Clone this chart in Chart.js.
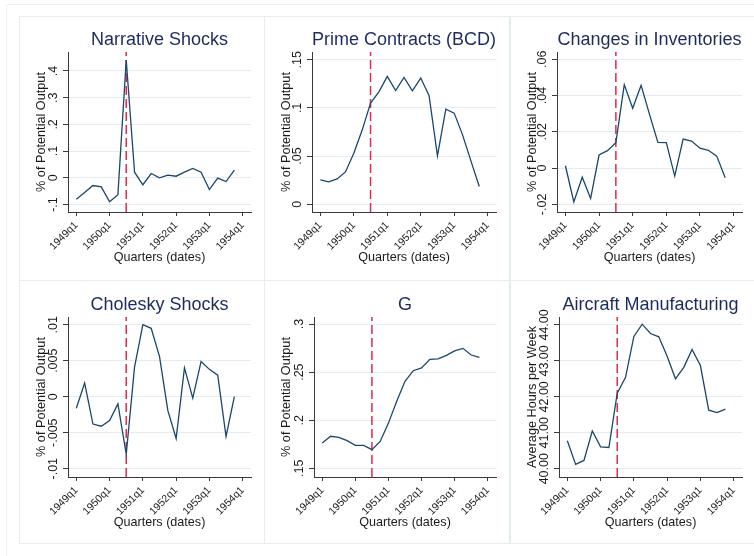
<!DOCTYPE html>
<html lang="en">
<head>
<meta charset="UTF-8">
<title>Defense shocks around the Korean War</title>
<script src="https://cdn.jsdelivr.net/npm/chart.js"></script>
<style>
  body {
    margin: 0;
    width: 754px;
    height: 556px;
    overflow: hidden;
    position: relative;
    background: #fff;
  }
  .outer {
    position: absolute;
    left: 6px;
    top: 4px;
    width: 800px;
    height: 600px;
    border: 1px solid #eef2f4;
  }
  .frame {
    position: absolute;
    box-sizing: border-box;
    border: 1px solid #e6edf0;
  }
  canvas {
    position: absolute;
  }
</style>
</head>
<body>
<div class="outer"></div>
<script>
// quarters on the x axis
const quarters = ['1949q1', '1949q2', '1949q3', '1949q4', '1950q1', '1950q2', '1950q3', '1950q4',
  '1951q1', '1951q2', '1951q3', '1951q4', '1952q1', '1952q2', '1952q3', '1952q4',
  '1953q1', '1953q2', '1953q3', '1953q4'];
const xTickValues = [0, 4, 8, 12, 16, 20];
const xTickLabels = ['1949q1', '1950q1', '1951q1', '1952q1', '1953q1', '1954q1'];
const eventQuarter = '1950q3';

// series
const narrativeShocks = [-0.080, -0.055, -0.029, -0.034, -0.090, -0.063, 0.441, 0.021, -0.026, 0.016,
  0.000, 0.010, 0.006, 0.021, 0.035, 0.021, -0.044, -0.001, -0.014, 0.029];
const primeContracts = [0.0253, 0.0232, 0.0263, 0.0336, 0.053, 0.077, 0.105, 0.1167, 0.1327, 0.118,
  0.1316, 0.1178, 0.131, 0.1126, 0.0502, 0.0987, 0.0946, 0.072, 0.045, 0.0184];
const inventories = [0.0013, -0.0186, -0.005, -0.0167, 0.0072, 0.0096, 0.014, 0.046, 0.033, 0.0456,
  0.0296, 0.0142, 0.014, -0.0044, 0.016, 0.0149, 0.011, 0.0098, 0.0066, -0.0053];
const choleskyShocks = [-0.0016, 0.0019, -0.0038, -0.0041, -0.0033, -0.001, -0.008, 0.0041, 0.0100, 0.0095,
  0.0056, -0.0019, -0.0058, 0.0040, -0.0002, 0.0049, 0.0038, 0.0030, -0.0055, 0.0000];
const govSpending = [0.1763, 0.1833, 0.1822, 0.1788, 0.1739, 0.1739, 0.1694, 0.178, 0.197, 0.2197,
  0.2404, 0.2515, 0.2543, 0.2633, 0.2637, 0.2675, 0.272, 0.2747, 0.2678, 0.2654];
const aircraftHours = [40.78, 40.12, 40.23, 41.05, 40.61, 40.59, 42.10, 42.54, 43.68, 44.02,
  43.76, 43.67, 43.13, 42.50, 42.82, 43.32, 42.87, 41.63, 41.56, 41.66];

// y ticks
const narrativeTicks = [-0.1, 0, 0.1, 0.2, 0.3, 0.4];
const narrativeTickLabels = ['-.1', '0', '.1', '.2', '.3', '.4'];
const primeTicks = [0, 0.05, 0.1, 0.15];
const primeTickLabels = ['0', '.05', '.1', '.15'];
const inventoryTicks = [-0.02, 0, 0.02, 0.04, 0.06];
const inventoryTickLabels = ['-.02', '0', '.02', '.04', '.06'];
const choleskyTicks = [-0.01, -0.005, 0, 0.005, 0.01];
const choleskyTickLabels = ['-.01', '-.005', '0', '.005', '.01'];
const govTicks = [0.15, 0.2, 0.25, 0.3];
const govTickLabels = ['.15', '.2', '.25', '.3'];
const aircraftTicks = [40, 41, 42, 43, 44];
const aircraftTickLabels = ['40.00', '41.00', '42.00', '43.00', '44.00'];

const FONT = '"Liberation Sans", Arial, Helvetica, sans-serif';
const lineColor = '#1a476f';
const titleColor = '#1c2b5e';
const textColor = '#1a1a1a';
const axisColor = '#3a3a3a';
const gridColor = '#e3ecef';
const eventColor = '#e02a4f';

Chart.defaults.font.family = FONT;

const panels = [
  { title: 'Narrative Shocks', yTitle: '% of Potential Output', values: narrativeShocks,
    ticks: narrativeTicks, labels: narrativeTickLabels, min: -0.128, max: 0.471, col: 0, row: 0, axisW: 49 },
  { title: 'Prime Contracts (BCD)', yTitle: '% of Potential Output', values: primeContracts,
    ticks: primeTicks, labels: primeTickLabels, min: -0.008, max: 0.158, col: 1, row: 0, axisW: 48 },
  { title: 'Changes in Inventories', yTitle: '% of Potential Output', values: inventories,
    ticks: inventoryTicks, labels: inventoryTickLabels, min: -0.0242, max: 0.064, col: 2, row: 0, axisW: 47 },
  { title: 'Cholesky Shocks', yTitle: '% of Potential Output', values: choleskyShocks,
    ticks: choleskyTicks, labels: choleskyTickLabels, min: -0.01115, max: 0.01107, col: 0, row: 1, axisW: 49 },
  { title: 'G', yTitle: '% of Potential Output', values: govSpending,
    ticks: govTicks, labels: govTickLabels, min: 0.141, max: 0.3073, col: 1, row: 1, axisW: 50 },
  { title: 'Aircraft Manufacturing', yTitle: 'Average Hours per Week', values: aircraftHours,
    ticks: aircraftTicks, labels: aircraftTickLabels, min: 39.77, max: 44.22, col: 2, row: 1, axisW: 49 }
];

const colLeft = [19, 264, 510];
const rowTop = [16, 280];

// dashed vertical line at the start of the war
const eventLinePlugin = {
  id: 'eventLine',
  beforeDatasetsDraw(chart, args, opts) {
    const x = chart.scales.x.getPixelForValue(opts.x);
    const area = chart.chartArea;
    const c = chart.ctx;
    c.save();
    c.strokeStyle = eventColor;
    c.lineWidth = 1.5;
    c.setLineDash([9, 4]);
    c.beginPath();
    c.moveTo(x, area.bottom);
    c.lineTo(x, area.top);
    c.stroke();
    c.restore();
  }
};

// vertical y tick labels, centred on the tick (stata style)
const yLabelPlugin = {
  id: 'yLabels',
  afterDraw(chart, args, opts) {
    const s = chart.scales.y;
    const c = chart.ctx;
    c.save();
    c.font = '12.5px ' + FONT;
    c.fillStyle = textColor;
    c.textAlign = 'center';
    c.textBaseline = 'middle';
    opts.values.forEach((v, i) => {
      c.save();
      c.translate(s.right - 14, s.getPixelForValue(v));
      c.rotate(-Math.PI / 2);
      c.fillText(opts.labels[i], 0, 0);
      c.restore();
    });
    c.restore();
  }
};

const eventIdx = quarters.indexOf(eventQuarter);

panels.forEach(p => {
  const frame = document.createElement('div');
  frame.className = 'frame';
  frame.style.left = colLeft[p.col] + 'px';
  frame.style.top = rowTop[p.row] + 'px';
  frame.style.width = '246px';
  frame.style.height = (p.row === 0 ? 265 : 264) + 'px';
  document.body.appendChild(frame);

  const cv = document.createElement('canvas');
  cv.width = 245;
  cv.height = 264;
  cv.style.left = colLeft[p.col] + 'px';
  cv.style.top = (rowTop[p.row] + p.row) + 'px';
  document.body.appendChild(cv);

  new Chart(cv, {
    type: 'line',
    data: {
      datasets: [{
        data: p.values.map((v, i) => ({ x: i, y: v })),
        borderColor: lineColor,
        borderWidth: 1.3,
        pointRadius: 0,
        tension: 0,
        fill: false
      }]
    },
    options: {
      responsive: false,
      animation: false,
      devicePixelRatio: 1,
      layout: { padding: { left: 0, right: 13, top: 0, bottom: 0 } },
      plugins: {
        legend: { display: false },
        tooltip: { enabled: false },
        title: {
          display: true,
          text: p.title,
          fullSize: false,
          color: titleColor,
          font: { size: 18, weight: 'normal' },
          padding: { top: 13, bottom: 1.4 }
        },
        eventLine: { x: eventIdx },
        yLabels: { values: p.ticks, labels: p.labels }
      },
      scales: {
        x: {
          type: 'linear',
          min: -1,
          max: 21,
          afterBuildTicks: a => { a.ticks = xTickValues.map(v => ({ value: v })); },
          afterFit: a => { a.height = 68; },
          grid: { drawOnChartArea: false, tickLength: 4, tickColor: axisColor },
          border: { color: axisColor },
          ticks: {
            autoSkip: false,
            minRotation: 45,
            maxRotation: 45,
            padding: 3,
            color: textColor,
            font: { size: 10.5 },
            callback: v => xTickLabels[xTickValues.indexOf(v)]
          },
          title: {
            display: true,
            text: 'Quarters (dates)',
            color: textColor,
            font: { size: 12.6 },
            padding: { top: 0, bottom: 14.7 }
          }
        },
        y: {
          type: 'linear',
          min: p.min,
          max: p.max,
          afterBuildTicks: a => { a.ticks = p.ticks.map(v => ({ value: v })); },
          afterFit: a => { a.width = p.axisW; },
          grid: { color: gridColor, tickLength: 5, tickColor: axisColor },
          border: { color: axisColor },
          ticks: { display: false },
          title: {
            display: true,
            text: p.yTitle,
            color: textColor,
            font: { size: 12.7 },
            padding: { top: 14.4, bottom: 0 }
          }
        }
      }
    },
    plugins: [eventLinePlugin, yLabelPlugin]
  });
});
</script>
</body>
</html>
